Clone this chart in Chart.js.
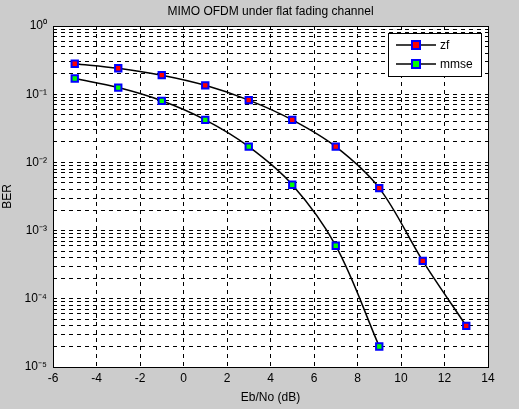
<!DOCTYPE html>
<html>
<head>
<meta charset="utf-8">
<script src="https://cdn.jsdelivr.net/npm/chart.js@4"></script>
<style>
  html, body { margin: 0; padding: 0; background: #cccccc; }
  #wrap { width: 519px; height: 409px; }
</style>
</head>
<body>
<div id="wrap"><canvas id="c"></canvas></div>
<script>
const ebno = [-5, -3, -1, 1, 3, 5, 7, 9, 11, 13];
const zfBer = [0.28, 0.24, 0.19, 0.135, 0.082, 0.042, 0.017, 0.0042, 0.00036, 0.00004];
const mmseBer = [0.17, 0.125, 0.08, 0.042, 0.017, 0.0047, 0.0006, 0.00002];
const xTicks = [-6, -4, -2, 0, 2, 4, 6, 8, 10, 12, 14];
const sup = { '-': '⁻', '0': '⁰', '1': '¹', '2': '²', '3': '³', '4': '⁴', '5': '⁵' };

const FONT = 'Liberation Sans, Arial, sans-serif';

// fond blanc de la zone de tracé + titre + légende
const matlabLook = {
  id: 'matlabLook',
  beforeDraw(chart) {
    const { ctx, chartArea: a } = chart;
    ctx.save();
    ctx.fillStyle = '#fff';
    ctx.fillRect(a.left, a.top, a.right - a.left, a.bottom - a.top);
    ctx.restore();
  },
  afterDraw(chart) {
    const { ctx, chartArea: a } = chart;
    ctx.save();
    ctx.strokeStyle = '#000';
    ctx.lineWidth = 1;
    ctx.strokeRect(a.left + 0.5, a.top + 0.5, a.right - a.left, a.bottom - a.top);
    ctx.fillStyle = '#000';
    ctx.font = '12px ' + FONT;
    ctx.textAlign = 'center';
    ctx.textBaseline = 'middle';
    ctx.fillText('MIMO OFDM under flat fading channel', (a.left + a.right) / 2, 12);

    // légende
    const bx = 388, by = 33, bw = 93, bh = 43;
    ctx.fillStyle = '#fff';
    ctx.fillRect(bx, by, bw, bh);
    ctx.strokeRect(bx + 0.5, by + 0.5, bw, bh);
    const items = [['zf', '#ff0000', by + 12], ['mmse', '#00ff00', by + 31]];
    items.forEach(([txt, col, y]) => {
      ctx.beginPath();
      ctx.moveTo(bx + 8, y); ctx.lineTo(bx + 48, y);
      ctx.lineWidth = 1.5; ctx.strokeStyle = '#000'; ctx.stroke();
      ctx.fillStyle = '#0000ff';
      ctx.fillRect(bx + 23, y - 5, 10, 10);
      ctx.fillStyle = col;
      ctx.fillRect(bx + 25, y - 3, 6, 6);
      ctx.fillStyle = '#000';
      ctx.textAlign = 'left';
      ctx.font = '12px ' + FONT;
      ctx.fillText(txt, bx + 52, y + 1);
    });
    ctx.restore();
  }
};

function ds(label, data, fill) {
  return {
    label,
    data: data.map((v, i) => ({ x: ebno[i], y: v })),
    borderColor: '#000',
    borderWidth: 1.5,
    tension: 0.35,
    pointStyle: 'rect',
    pointRadius: 4.5,
    pointBorderWidth: 2,
    pointBorderColor: '#0000ff',
    pointBackgroundColor: fill
  };
}

new Chart(document.getElementById('c'), {
  type: 'line',
  data: { datasets: [ds('zf', zfBer, '#ff0000'), ds('mmse', mmseBer, '#00ff00')] },
  options: {
    responsive: true,
    maintainAspectRatio: false,
    animation: false,
    layout: { padding: { top: 26, right: 31, left: 0, bottom: 0 } },
    plugins: { legend: { display: false }, tooltip: { enabled: false } },
    scales: {
      x: {
        type: 'linear', min: -6, max: 14,
        afterBuildTicks: s => { s.ticks = xTicks.map(v => ({ value: v })); },
        afterFit: s => { s.height = 42; },
        grid: { color: '#000', tickLength: 0, drawTicks: false },
        border: { dash: [4, 4], display: false },
        ticks: { color: '#000', font: { family: FONT, size: 12 }, padding: 4 },
        title: { display: true, text: 'Eb/No (dB)', color: '#000', font: { family: FONT, size: 12 }, padding: { top: 0, bottom: 4 } }
      },
      y: {
        type: 'logarithmic', min: 1e-5, max: 1,
        afterBuildTicks: s => {
          const t = [];
          for (let e = -5; e < 0; e++) for (let m = 1; m < 10; m++) t.push({ value: m * Math.pow(10, e) });
          t.push({ value: 1 });
          s.ticks = t;
        },
        afterFit: s => { s.width = 53; },
        grid: { color: '#000', drawTicks: false },
        border: { dash: [4, 4], display: false },
        ticks: {
          autoSkip: false, color: '#000', font: { family: FONT, size: 12 }, padding: 6,
          callback: v => {
            const e = Math.log10(v);
            if (Math.abs(e - Math.round(e)) > 1e-9) return '';
            return '10' + String(Math.round(e)).split('').map(c => sup[c]).join('');
          }
        },
        title: { display: true, text: 'BER', color: '#000', font: { family: FONT, size: 12 }, padding: { top: 0, bottom: 2 } }
      }
    }
  },
  plugins: [matlabLook]
});
</script>
</body>
</html>
